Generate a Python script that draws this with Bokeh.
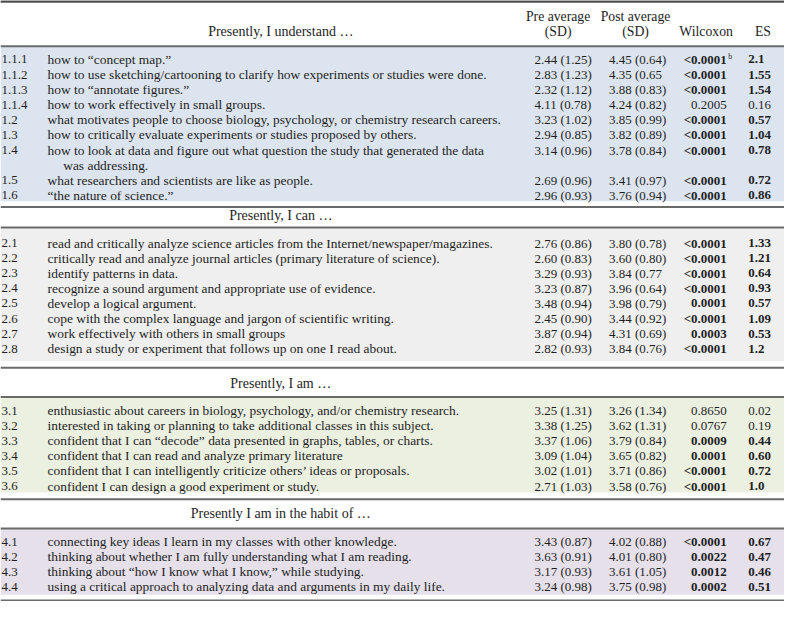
from bokeh.plotting import figure
from bokeh.models import Range1d, ColumnDataSource
from bokeh.core.properties import value
from bokeh.embed import file_html
from bokeh.resources import INLINE

# ---------------- data ----------------
section_titles = ["Presently, I understand …", "Presently, I can …",
                  "Presently, I am …", "Presently I am in the habit of …"]
col_headers = ["Pre average", "Post average", "Wilcoxon", "ES"]

ids1 = ["1.1.1", "1.1.2", "1.1.3", "1.1.4", "1.2", "1.3", "1.4", "1.5", "1.6"]
items1 = ["how to “concept map.”",
          "how to use sketching/cartooning to clarify how experiments or studies were done.",
          "how to “annotate figures.”",
          "how to work effectively in small groups.",
          "what motivates people to choose biology, psychology, or chemistry research careers.",
          "how to critically evaluate experiments or studies proposed by others.",
          "how to look at data and figure out what question the study that generated the data|was addressing.",
          "what researchers and scientists are like as people.",
          "“the nature of science.”"]
pre1 = ["2.44 (1.25)", "2.83 (1.23)", "2.32 (1.12)", "4.11 (0.78)", "3.23 (1.02)", "2.94 (0.85)", "3.14 (0.96)", "2.69 (0.96)", "2.96 (0.93)"]
post1 = ["4.45 (0.64)", "4.35 (0.65", "3.88 (0.83)", "4.24 (0.82)", "3.85 (0.99)", "3.82 (0.89)", "3.78 (0.84)", "3.41 (0.97)", "3.76 (0.94)"]
wil1 = ["<0.0001", "<0.0001", "<0.0001", "0.2005", "<0.0001", "<0.0001", "<0.0001", "<0.0001", "<0.0001"]
es1 = ["2.1", "1.55", "1.54", "0.16", "0.57", "1.04", "0.78", "0.72", "0.86"]

ids2 = ["2.1", "2.2", "2.3", "2.4", "2.5", "2.6", "2.7", "2.8"]
items2 = ["read and critically analyze science articles from the Internet/newspaper/magazines.",
          "critically read and analyze journal articles (primary literature of science).",
          "identify patterns in data.",
          "recognize a sound argument and appropriate use of evidence.",
          "develop a logical argument.",
          "cope with the complex language and jargon of scientific writing.",
          "work effectively with others in small groups",
          "design a study or experiment that follows up on one I read about."]
pre2 = ["2.76 (0.86)", "2.60 (0.83)", "3.29 (0.93)", "3.23 (0.87)", "3.48 (0.94)", "2.45 (0.90)", "3.87 (0.94)", "2.82 (0.93)"]
post2 = ["3.80 (0.78)", "3.60 (0.80)", "3.84 (0.77", "3.96 (0.64)", "3.98 (0.79)", "3.44 (0.92)", "4.31 (0.69)", "3.84 (0.76)"]
wil2 = ["<0.0001", "<0.0001", "<0.0001", "<0.0001", "0.0001", "<0.0001", "0.0003", "<0.0001"]
es2 = ["1.33", "1.21", "0.64", "0.93", "0.57", "1.09", "0.53", "1.2"]

ids3 = ["3.1", "3.2", "3.3", "3.4", "3.5", "3.6"]
items3 = ["enthusiastic about careers in biology, psychology, and/or chemistry research.",
          "interested in taking or planning to take additional classes in this subject.",
          "confident that I can “decode” data presented in graphs, tables, or charts.",
          "confident that I can read and analyze primary literature",
          "confident that I can intelligently criticize others’ ideas or proposals.",
          "confident I can design a good experiment or study."]
pre3 = ["3.25 (1.31)", "3.38 (1.25)", "3.37 (1.06)", "3.09 (1.04)", "3.02 (1.01)", "2.71 (1.03)"]
post3 = ["3.26 (1.34)", "3.62 (1.31)", "3.79 (0.84)", "3.65 (0.82)", "3.71 (0.86)", "3.58 (0.76)"]
wil3 = ["0.8650", "0.0767", "0.0009", "0.0001", "<0.0001", "<0.0001"]
es3 = ["0.02", "0.19", "0.44", "0.60", "0.72", "1.0"]

ids4 = ["4.1", "4.2", "4.3", "4.4"]
items4 = ["connecting key ideas I learn in my classes with other knowledge.",
          "thinking about whether I am fully understanding what I am reading.",
          "thinking about “how I know what I know,” while studying.",
          "using a critical approach to analyzing data and arguments in my daily life."]
pre4 = ["3.43 (0.87)", "3.63 (0.91)", "3.17 (0.93)", "3.24 (0.98)"]
post4 = ["4.02 (0.88)", "4.01 (0.80)", "3.61 (1.05)", "3.75 (0.98)"]
wil4 = ["<0.0001", "0.0022", "0.0012", "0.0002"]
es4 = ["0.67", "0.47", "0.46", "0.51"]

sections = [(ids1, items1, pre1, post1, wil1, es1),
            (ids2, items2, pre2, post2, wil2, es2),
            (ids3, items3, pre3, post3, wil3, es3),
            (ids4, items4, pre4, post4, wil4, es4)]
footnote_mark = "b"

# ---------------- styling / layout ----------------
W, H = 784, 601
S = W / 800.0
FONT = value("Liberation Serif")
def fs(px):
    return value(f"{px * S:.2f}px")

shade_colors = ["#dce5ef", "#efefef", "#ecf0e1", "#e5e0ea"]
line_col = "#6a6a6a"
top_col = "#4a4a4a"
txt_col = "#1e1e1e"

sec_line_top = [1, 212, 377, 512]     # rule above each section
hdr_height = [46, 21, 30, 30]         # distance to rule below section header
hdr_text_off = [31, 9, 16, 15]
first_off = [13.5, 16, 14, 13.5]
sec_end = [206, 370, 505, 610]        # bottom of shading
bottom_rule = 616
PITCH = 15.5

X_ID, X_ITEM, X_WRAP = 1, 48, 64
X_PRE, X_POST, X_WIL, X_ES = 545, 621, 741, 763

p = figure(width=W, height=H, x_range=Range1d(0, 800), y_range=Range1d(617, 0),
           output_backend="svg", toolbar_location=None, min_border=0)
p.axis.visible = False
p.grid.visible = False
p.outline_line_color = None
p.background_fill_color = "white"

def pval(s):
    return float(s.replace("<", ""))

rules = []
cells = {(kind, a): dict(x=[], y=[], text=[]) for kind in ("item", "num", "bold") for a in ("left", "right")}
hdr = dict(x=[], y=[], text=[])

def add(kind, x, y, t, a="left"):
    d = cells[(kind, a)]
    d["x"].append(x); d["y"].append(y); d["text"].append(t)

for si, (ids, items, pre, post, wil, es) in enumerate(sections):
    top = sec_line_top[si]
    below = top + hdr_height[si]
    rules.append(top)
    rules.append(below)
    hdr["x"].append(286); hdr["y"].append(top + hdr_text_off[si]); hdr["text"].append(section_titles[si])
    p.quad(left=0, right=800, top=below, bottom=sec_end[si], fill_color=shade_colors[si], line_color=None)
    y = below + first_off[si]
    for k in range(len(ids)):
        parts = items[k].split("|")
        add("num", X_ID, y, ids[k])
        add("item", X_ITEM, y, parts[0])
        add("num", X_PRE, y, pre[k])
        add("num", X_POST, y, post[k])
        sig = pval(wil[k]) < 0.05
        add("bold" if sig else "num", X_WIL, y, wil[k], "right")
        add("bold" if sig else "num", X_ES, y, es[k])
        if si == 0 and k == 0:
            p.text(x=[X_WIL + 1.5], y=[y - 3.5], text=[footnote_mark], text_font=FONT,
                   text_font_size=fs(8), text_color=txt_col, text_baseline="middle")
        for extra in parts[1:]:
            y += PITCH
            add("item", X_WRAP, y, extra)
        y += PITCH
rules.append(bottom_rule)

p.segment(x0=[0] * len(rules), x1=[800] * len(rules), y0=rules, y1=rules,
          line_color=line_col, line_width=2)
p.segment(x0=[0], x1=[800], y0=[sec_line_top[0]], y1=[sec_line_top[0]], line_color=top_col, line_width=2)

sizes = {"item": 13.7, "num": 13.2, "bold": 13.2}
for (kind, a), d in cells.items():
    if d["x"]:
        p.text(x="x", y="y", text="text", source=ColumnDataSource(d), text_align=a,
               text_baseline="middle", text_font=FONT, text_font_size=fs(sizes[kind]),
               text_font_style="bold" if kind == "bold" else "normal", text_color=txt_col)

p.text(x="x", y="y", text="text", source=ColumnDataSource(hdr), text_align="center",
       text_baseline="middle", text_font=FONT, text_font_size=fs(14.3), text_color=txt_col)

# column headers
ch_x = [569, 648, 720, 778]
p.text(x=[ch_x[0], ch_x[1]], y=[16, 16], text=[col_headers[0], col_headers[1]], text_align="center",
       text_baseline="middle", text_font=FONT, text_font_size=fs(14.0), text_color=txt_col)
p.text(x=ch_x, y=[32] * 4, text=["(SD)", "(SD)", col_headers[2], col_headers[3]], text_align="center",
       text_baseline="middle", text_font=FONT, text_font_size=fs(14.0), text_color=txt_col)

open("out.html", "w").write(file_html(p, INLINE))
